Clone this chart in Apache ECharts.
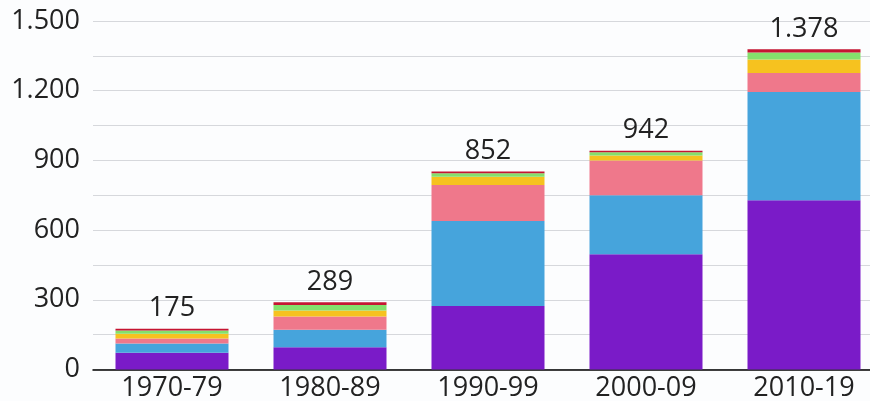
<!DOCTYPE html>
<html>
<head>
<meta charset="utf-8">
<script src="https://cdn.jsdelivr.net/npm/echarts@6/dist/echarts.min.js"></script>
<style>
html,body{margin:0;padding:0;background:#fcfdfe;}
#c{width:870px;height:401px;}
</style>
</head>
<body>
<div id="c"></div>
<script>
var categories = ['1970-79', '1980-89', '1990-99', '2000-09', '2010-19'];
var purple = [72, 96, 273, 496, 729];
var blue   = [40, 75, 366, 254, 465];
var pink   = [21, 57, 155, 150, 82];
var yellow = [21, 26, 36, 21, 58];
var green  = [14, 24, 15, 14, 30];
var red    = [7, 11, 7, 7, 14];
var totals = [175, 289, 852, 942, 1378];

function fmt(v) {
  return String(v).replace(/\B(?=(\d{3})+(?!\d))/g, '.');
}

var chart = echarts.init(document.getElementById('c'));
var font = '"Open Sans", "Noto Sans", sans-serif';
function seg(name, data, color) {
  return {
    name: name, type: 'bar', stack: 'total', data: data,
    barWidth: 113, itemStyle: { color: color },
    emphasis: { disabled: true }
  };
}
var series = [
  seg('a', purple, '#7a1bc8'),
  seg('b', blue, '#46a4dc'),
  seg('c', pink, '#ef788b'),
  seg('d', yellow, '#f6c21f'),
  seg('e', green, '#84e06c'),
  seg('f', red, '#c51532')
];
series[5].label = {
  show: true, position: 'top', distance: 7,
  fontFamily: font, fontSize: 27, color: '#222',
  formatter: function (p) { return fmt(totals[p.dataIndex]); }
};
chart.setOption({
  animation: false,
  backgroundColor: '#fcfdfe',
  grid: { left: 93, top: 21, bottom: 31.5, right: -13, outerBoundsMode: 'none', containLabel: false },
  xAxis: {
    type: 'category', data: categories,
    axisLine: { lineStyle: { color: '#000', width: 1.5 } },
    axisTick: { show: false },
    axisLabel: { fontFamily: font, fontSize: 27, color: '#222', margin: 5 }
  },
  yAxis: {
    type: 'value', min: 0, max: 1500, interval: 150,
    axisLine: { show: false }, axisTick: { show: false },
    splitLine: { lineStyle: { color: '#d6d8dc', width: 1 } },
    axisLabel: {
      fontFamily: font, fontSize: 27, color: '#222', margin: 13,
      formatter: function (v) { return v % 300 === 0 ? fmt(v) : ''; }
    }
  },
  series: series
});
</script>
</body>
</html>
